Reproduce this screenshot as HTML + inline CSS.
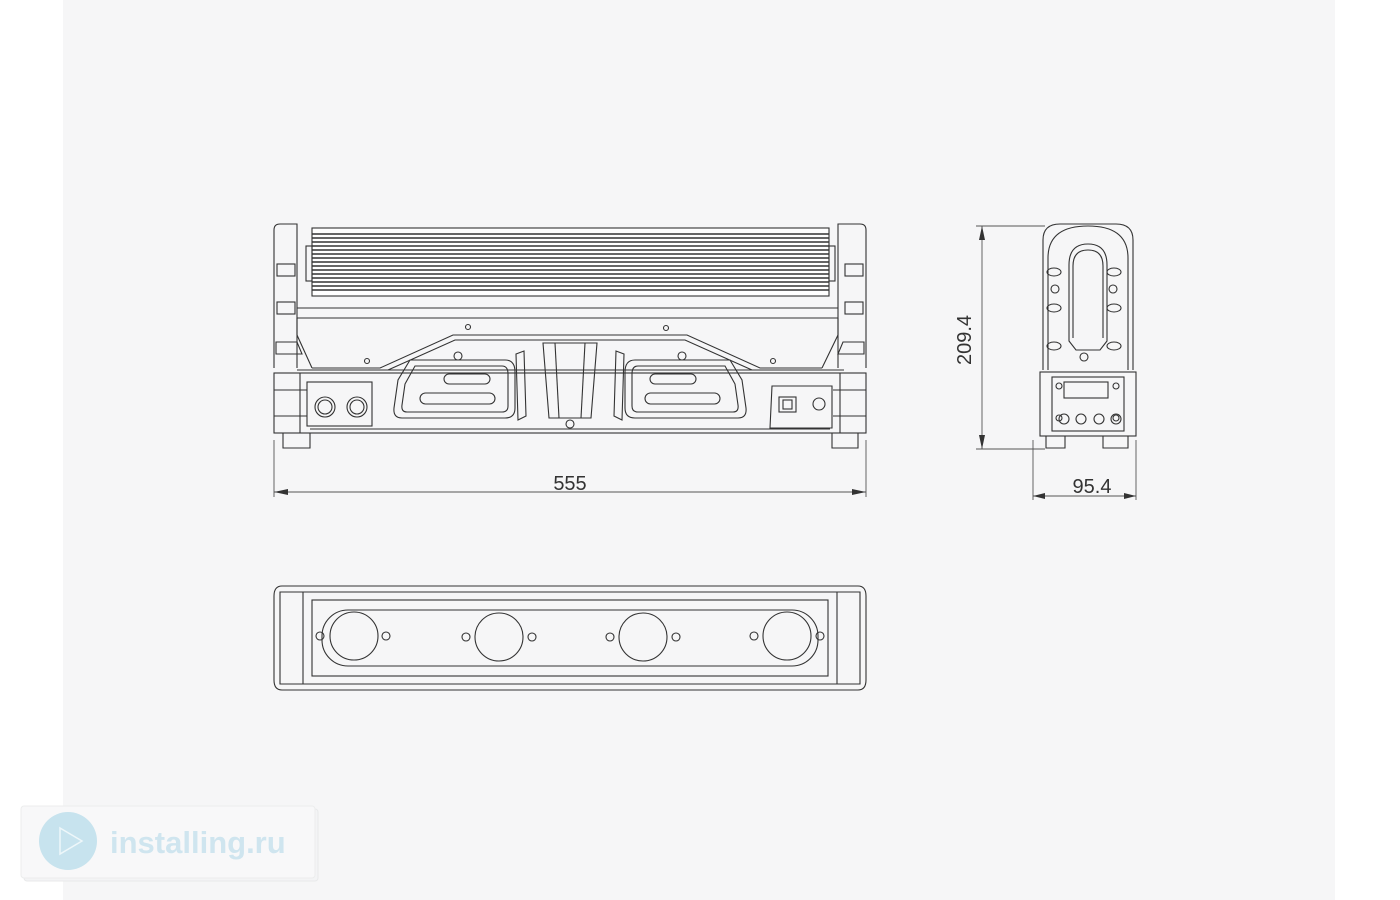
<!DOCTYPE html>
<html><head><meta charset="utf-8"><style>
html,body{margin:0;padding:0;width:1400px;height:900px;overflow:hidden;background:#fff}
svg{display:block}
</style></head><body>
<svg width="1400" height="900" viewBox="0 0 1400 900" xmlns="http://www.w3.org/2000/svg">
<rect x="0" y="0" width="1400" height="900" fill="#ffffff"/>
<rect x="63" y="0" width="1272" height="900" fill="#f6f6f7"/>

<g fill="none" stroke="#333" stroke-width="1.1">
<rect x="312" y="228" width="517" height="68" fill="#fff"/>
<g stroke="#333" stroke-width="1.5">
<line x1="312" y1="234" x2="829" y2="234"/><line x1="312" y1="238" x2="829" y2="238"/>
<line x1="312" y1="242" x2="829" y2="242"/><line x1="312" y1="246" x2="829" y2="246"/>
<line x1="312" y1="250" x2="829" y2="250"/><line x1="312" y1="254" x2="829" y2="254"/>
<line x1="312" y1="258" x2="829" y2="258"/><line x1="312" y1="262" x2="829" y2="262"/>
<line x1="312" y1="266" x2="829" y2="266"/><line x1="312" y1="270" x2="829" y2="270"/>
<line x1="312" y1="274" x2="829" y2="274"/><line x1="312" y1="278" x2="829" y2="278"/>
<line x1="312" y1="282" x2="829" y2="282"/><line x1="312" y1="286" x2="829" y2="286"/>
<line x1="312" y1="290" x2="829" y2="290"/>
</g>
<rect x="306" y="246" width="6" height="35"/><rect x="829" y="246" width="6" height="35"/>
<line x1="297" y1="308" x2="838" y2="308"/>
<line x1="297" y1="318" x2="838" y2="318"/>
<line x1="297" y1="318" x2="297" y2="335"/><line x1="297" y1="335" x2="312" y2="368"/>
<line x1="838" y1="318" x2="838" y2="335"/><line x1="838" y1="335" x2="822" y2="368"/>
<path d="M274 368 V230 Q274 224 280 224 H297 V368"/>
<path d="M866 368 V230 Q866 224 860 224 H838 V368"/>
<rect x="277" y="264" width="18" height="12"/><rect x="277" y="302" width="18" height="12"/>
<rect x="845" y="264" width="18" height="12"/><rect x="845" y="302" width="18" height="12"/>
<path d="M276 342 H297 L302 354 H276 Z"/><path d="M864 342 H843 L838 354 H864 Z"/>
<path d="M312 368 H380 L453 335 H687 L760 368 H822"/>
<path d="M388 370 L455 340 H685 L752 370"/>
<line x1="297" y1="370" x2="844" y2="370"/>
<rect x="274" y="373" width="592" height="60"/>
<line x1="274" y1="390" x2="307" y2="390"/><line x1="274" y1="416" x2="307" y2="416"/>
<line x1="833" y1="390" x2="866" y2="390"/><line x1="833" y1="416" x2="866" y2="416"/>
<line x1="300" y1="373" x2="300" y2="433"/><line x1="840" y1="373" x2="840" y2="433"/>
<line x1="310" y1="429" x2="830" y2="429"/>
<path d="M283 433 V448 H310 V433"/><path d="M832 433 V448 H858 V433"/>
<rect x="307" y="382" width="65" height="44"/>
<circle cx="325" cy="407" r="10"/><circle cx="325" cy="407" r="7"/>
<circle cx="357" cy="407" r="10"/><circle cx="357" cy="407" r="7"/>
<path d="M772 386 H832 V428 H770 Z"/>
<rect x="779" y="397" width="17" height="15"/><rect x="783" y="400" width="9" height="9"/>
<circle cx="819" cy="404" r="6"/>
<path d="M543 343 H597 L591 418 H549 Z"/>
<line x1="555" y1="343" x2="559" y2="418"/><line x1="585" y1="343" x2="581" y2="418"/>
<circle cx="570" cy="424" r="4"/>
<path d="M410 360 H505 Q515 360 515 372 V408 Q515 418 505 418 H402 Q393 418 394 408 L398 380 Z"/>
<path d="M415 366 H502 Q508 366 508 374 V406 Q508 412 502 412 H407 Q401 412 402 405 L405 384 Z"/>
<rect x="444" y="374" width="46" height="10" rx="5"/><rect x="420" y="393" width="75" height="11" rx="5.5"/>
<path d="M516 354 L524 351 L526 416 L518 420 Z"/>
<circle cx="458" cy="356" r="4"/>
<path d="M730 360 H635 Q625 360 625 372 V408 Q625 418 635 418 H738 Q747 418 746 408 L742 380 Z"/>
<path d="M725 366 H638 Q632 366 632 374 V406 Q632 412 638 412 H733 Q739 412 738 405 L735 384 Z"/>
<rect x="650" y="374" width="46" height="10" rx="5"/><rect x="645" y="393" width="75" height="11" rx="5.5"/>
<path d="M624 354 L616 351 L614 416 L622 420 Z"/>
<circle cx="682" cy="356" r="4"/>
<circle cx="468" cy="327" r="2.5"/><circle cx="666" cy="328" r="2.5"/>
<circle cx="367" cy="361" r="2.5"/><circle cx="773" cy="361" r="2.5"/>

<path d="M1043 370 V240 Q1043 224 1060 224 H1116 Q1133 224 1133 240 V370"/>
<path d="M1048 370 V258 Q1048 226 1088 226 Q1128 226 1128 258 V370"/>
<path d="M1069 341 V265 Q1069 244 1088 244 Q1107 244 1107 265 V341 L1100 350 H1076 Z"/>
<path d="M1073 338 V266 Q1073 250 1088 250 Q1103 250 1103 266 V338"/>
<circle cx="1055" cy="289" r="4"/><circle cx="1113" cy="289" r="4"/><circle cx="1084" cy="357" r="4"/>
<ellipse cx="1054" cy="272" rx="7" ry="4"/><ellipse cx="1114" cy="272" rx="7" ry="4"/>
<ellipse cx="1054" cy="308" rx="7" ry="4"/><ellipse cx="1114" cy="308" rx="7" ry="4"/>
<ellipse cx="1054" cy="346" rx="7" ry="4"/><ellipse cx="1114" cy="346" rx="7" ry="4"/>
<rect x="1040" y="372" width="96" height="64"/>
<rect x="1052" y="377" width="72" height="54"/>
<rect x="1064" y="382" width="44" height="16"/>
<circle cx="1059" cy="386" r="3"/><circle cx="1116" cy="386" r="3"/>
<circle cx="1059" cy="418" r="3"/><circle cx="1116" cy="418" r="3"/>
<circle cx="1064" cy="419" r="5"/><circle cx="1081" cy="419" r="5"/><circle cx="1099" cy="419" r="5"/><circle cx="1116" cy="419" r="5"/>
<path d="M1046 436 V448 H1065 V436"/><path d="M1103 436 V448 H1128 V436"/>

<path d="M282 586 H858 Q866 586 866 596 V680 Q866 690 858 690 H282 Q274 690 274 680 V596 Q274 586 282 586 Z"/>
<path d="M280 592 H860 V684 H280 Z"/>
<line x1="303" y1="592" x2="303" y2="684"/><line x1="837" y1="592" x2="837" y2="684"/>
<rect x="312" y="600" width="516" height="76"/>
<rect x="322" y="610" width="496" height="56" rx="26"/>
<circle cx="354" cy="636" r="24"/><circle cx="499" cy="637" r="24"/>
<circle cx="643" cy="637" r="24"/><circle cx="787" cy="636" r="24"/>
<circle cx="320" cy="636" r="4"/><circle cx="386" cy="636" r="4"/>
<circle cx="466" cy="637" r="4"/><circle cx="532" cy="637" r="4"/>
<circle cx="610" cy="637" r="4"/><circle cx="676" cy="637" r="4"/>
<circle cx="754" cy="636" r="4"/><circle cx="820" cy="636" r="4"/>

<g stroke="#555" stroke-width="0.9">
<line x1="274" y1="440" x2="274" y2="497"/><line x1="866" y1="440" x2="866" y2="497"/>
<line x1="274" y1="492" x2="866" y2="492"/>
<line x1="976" y1="226" x2="1045" y2="226"/><line x1="976" y1="449" x2="1045" y2="449"/>
<line x1="982" y1="226" x2="982" y2="449"/>
<line x1="1033" y1="440" x2="1033" y2="500"/><line x1="1136" y1="440" x2="1136" y2="500"/>
<line x1="1033" y1="496" x2="1136" y2="496"/>
</g>
</g>
<g fill="#333">
<path d="M274 492 L288 489 L288 495 Z"/><path d="M866 492 L852 489 L852 495 Z"/>
<path d="M982 226 L979 240 L985 240 Z"/><path d="M982 449 L979 435 L985 435 Z"/>
<path d="M1033 496 L1045 493 L1045 499 Z"/><path d="M1136 496 L1124 493 L1124 499 Z"/>
</g>
<g font-family="Liberation Sans, sans-serif" font-size="20" fill="#333">
<text x="570" y="490" text-anchor="middle">555</text>
<text x="1092" y="493" text-anchor="middle">95.4</text>
<text transform="translate(971,340) rotate(-90)" text-anchor="middle">209.4</text>
</g>

<rect x="24" y="809" width="294" height="72" rx="3" fill="#f3f4f5" stroke="#e8e9ea"/>
<rect x="21" y="806" width="294" height="72" rx="3" fill="#f8f8f9" stroke="#eceded"/>
<circle cx="68" cy="841" r="29" fill="#c7e3ee"/>
<path d="M60 828 L82 841 L60 854 Z" fill="none" stroke="#eef7fa" stroke-width="1.5"/>
<text x="110" y="853" font-family="Liberation Sans, sans-serif" font-size="31" font-weight="bold" fill="#cfe5ef">installing.ru</text>
</svg>
</body></html>
